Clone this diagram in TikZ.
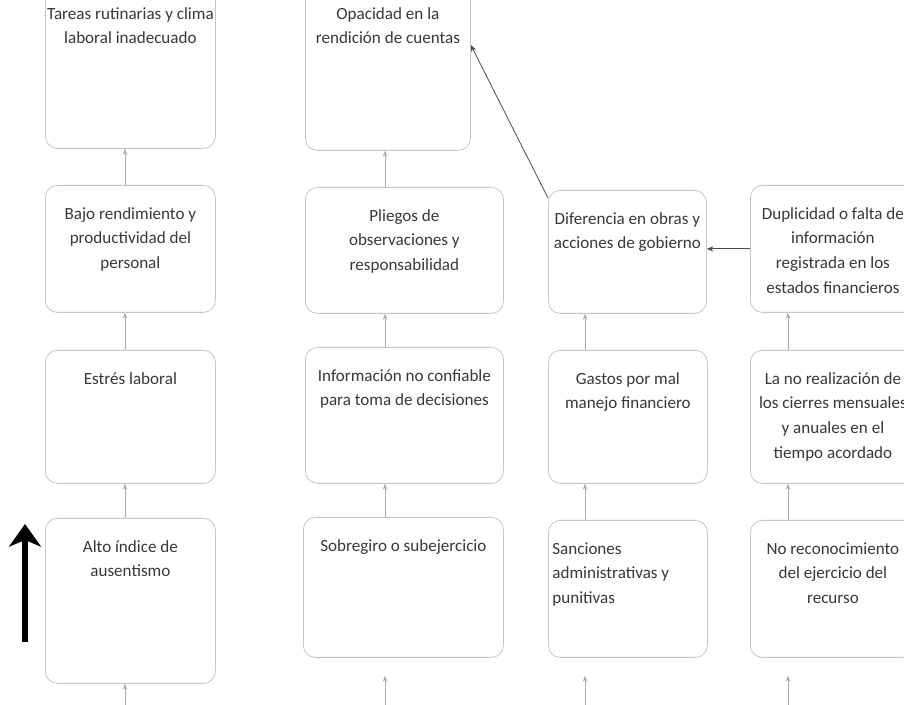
\documentclass[tikz,border=0pt]{standalone}
\usepackage{fontspec}
\setmainfont{Carlito}
\usetikzlibrary{arrows.meta}
\newlength\unitpx
\setlength\unitpx{0.75pt}
% text block of a box: width, height (px), text starts near the top
\newcommand\cellbox[3]{\parbox[c][#2\unitpx][t]{#1\unitpx}{\fontsize{12.8}{18.5}\selectfont\centering\vspace*{22\unitpx}#3\par}}
\begin{document}
\begin{tikzpicture}[x=0.75pt,y=-0.75pt,
  box/.style={draw=gray!45,line width=0.6pt,rounded corners=9pt,inner sep=0pt,anchor=north west,text=black!78},
  link/.style={draw=gray!65,line width=0.5pt,-{Stealth[length=4.5pt,width=3.5pt]}},
  darklink/.style={draw=black!70,line width=0.6pt,-{Stealth[length=5pt,width=4pt]}},
  bigarrow/.style={draw=black,line width=4pt,-{Stealth[length=17pt,width=24pt,inset=5pt]}}]
\useasboundingbox[fill=white] (0,0) rectangle (904,705);

% column guides for the vertical connectors
\coordinate (c1) at (125,0);
\coordinate (c2) at (385,0);
\coordinate (c3) at (585,0);
\coordinate (c4) at (788,0);

% top row
\node[box] (b00) at (45,-15) {\cellbox{170}{163}{Tareas rutinarias y clima\\laboral inadecuado}};
\node[box] (b01) at (305,-15) {\cellbox{165}{165}{Opacidad en la\\rendición de cuentas}};

% second row
\node[box] (b10) at (45,185) {\cellbox{170}{127}{Bajo rendimiento y\\productividad del\\personal}};
\node[box] (b11) at (305,187) {\cellbox{198}{126}{Pliegos de\\observaciones y\\responsabilidad}};
\node[box] (b12) at (548,190) {\cellbox{158}{123}{Diferencia en obras y\\acciones de gobierno}};
\node[box] (b13) at (750,185) {\cellbox{165}{127}{Duplicidad o falta de\\información\\registrada en los\\estados financieros}};

% third row
\node[box] (b20) at (45,350) {\cellbox{170}{133}{Estrés laboral}};
\node[box] (b21) at (305,347) {\cellbox{198}{136}{Información no confiable\\para toma de decisiones}};
\node[box] (b22) at (548,350) {\cellbox{159}{133}{Gastos por mal\\manejo financiero}};
\node[box] (b23) at (750,350) {\cellbox{165}{133}{La no realización de\\los cierres mensuales\\y anuales en el\\tiempo acordado}};

% bottom row
\node[box] (b30) at (45,518) {\cellbox{170}{165}{Alto índice de\\ausentismo}};
\node[box] (b31) at (303,517) {\cellbox{200}{140}{Sobregiro o subejercicio}};
\node[box] (b32) at (548,520) {\cellbox{159}{137}{\raggedright\leftskip=4\unitpx Sanciones\\administrativas y\\punitivas}};
\node[box] (b33) at (750,520) {\cellbox{165}{137}{No reconocimiento\\del ejercicio del\\recurso}};

% free ends of the lowest connectors
\coordinate (d1) at (125,705);
\coordinate (d2) at (385,705);
\coordinate (d3) at (585,705);
\coordinate (d4) at (788,705);

% vertical connectors, column 1
\draw[link] (b10.north -| c1) -- (b00.south -| c1);
\draw[link] (b20.north -| c1) -- (b10.south -| c1);
\draw[link] (b30.north -| c1) -- (b20.south -| c1);
\draw[link] (d1) -- (b30.south -| c1);

% column 2
\draw[link] (b11.north -| c2) -- (b01.south -| c2);
\draw[link] (b21.north -| c2) -- (b11.south -| c2);
\draw[link] (b31.north -| c2) -- (b21.south -| c2);
\draw[link,shorten >=18\unitpx] (d2) -- (b31.south -| c2);

% column 3
\draw[link] (b22.north -| c3) -- (b12.south -| c3);
\draw[link] (b32.north -| c3) -- (b22.south -| c3);
\draw[link,shorten >=18\unitpx] (d3) -- (b32.south -| c3);

% column 4
\draw[link] (b23.north -| c4) -- (b13.south -| c4);
\draw[link] (b33.north -| c4) -- (b23.south -| c4);
\draw[link,shorten >=18\unitpx] (d4) -- (b33.south -| c4);

% cross links
\draw[darklink] ([yshift=-6pt]b12.north west) -- ([yshift=-45pt]b01.north east);
\draw[darklink] (b13.west) -- (b13.west -| b12.east);

% reading direction
\coordinate (u0) at (25,642);
\coordinate (u1) at (25,524);
\draw[bigarrow] (u0) -- (u1);
\end{tikzpicture}
\end{document}
